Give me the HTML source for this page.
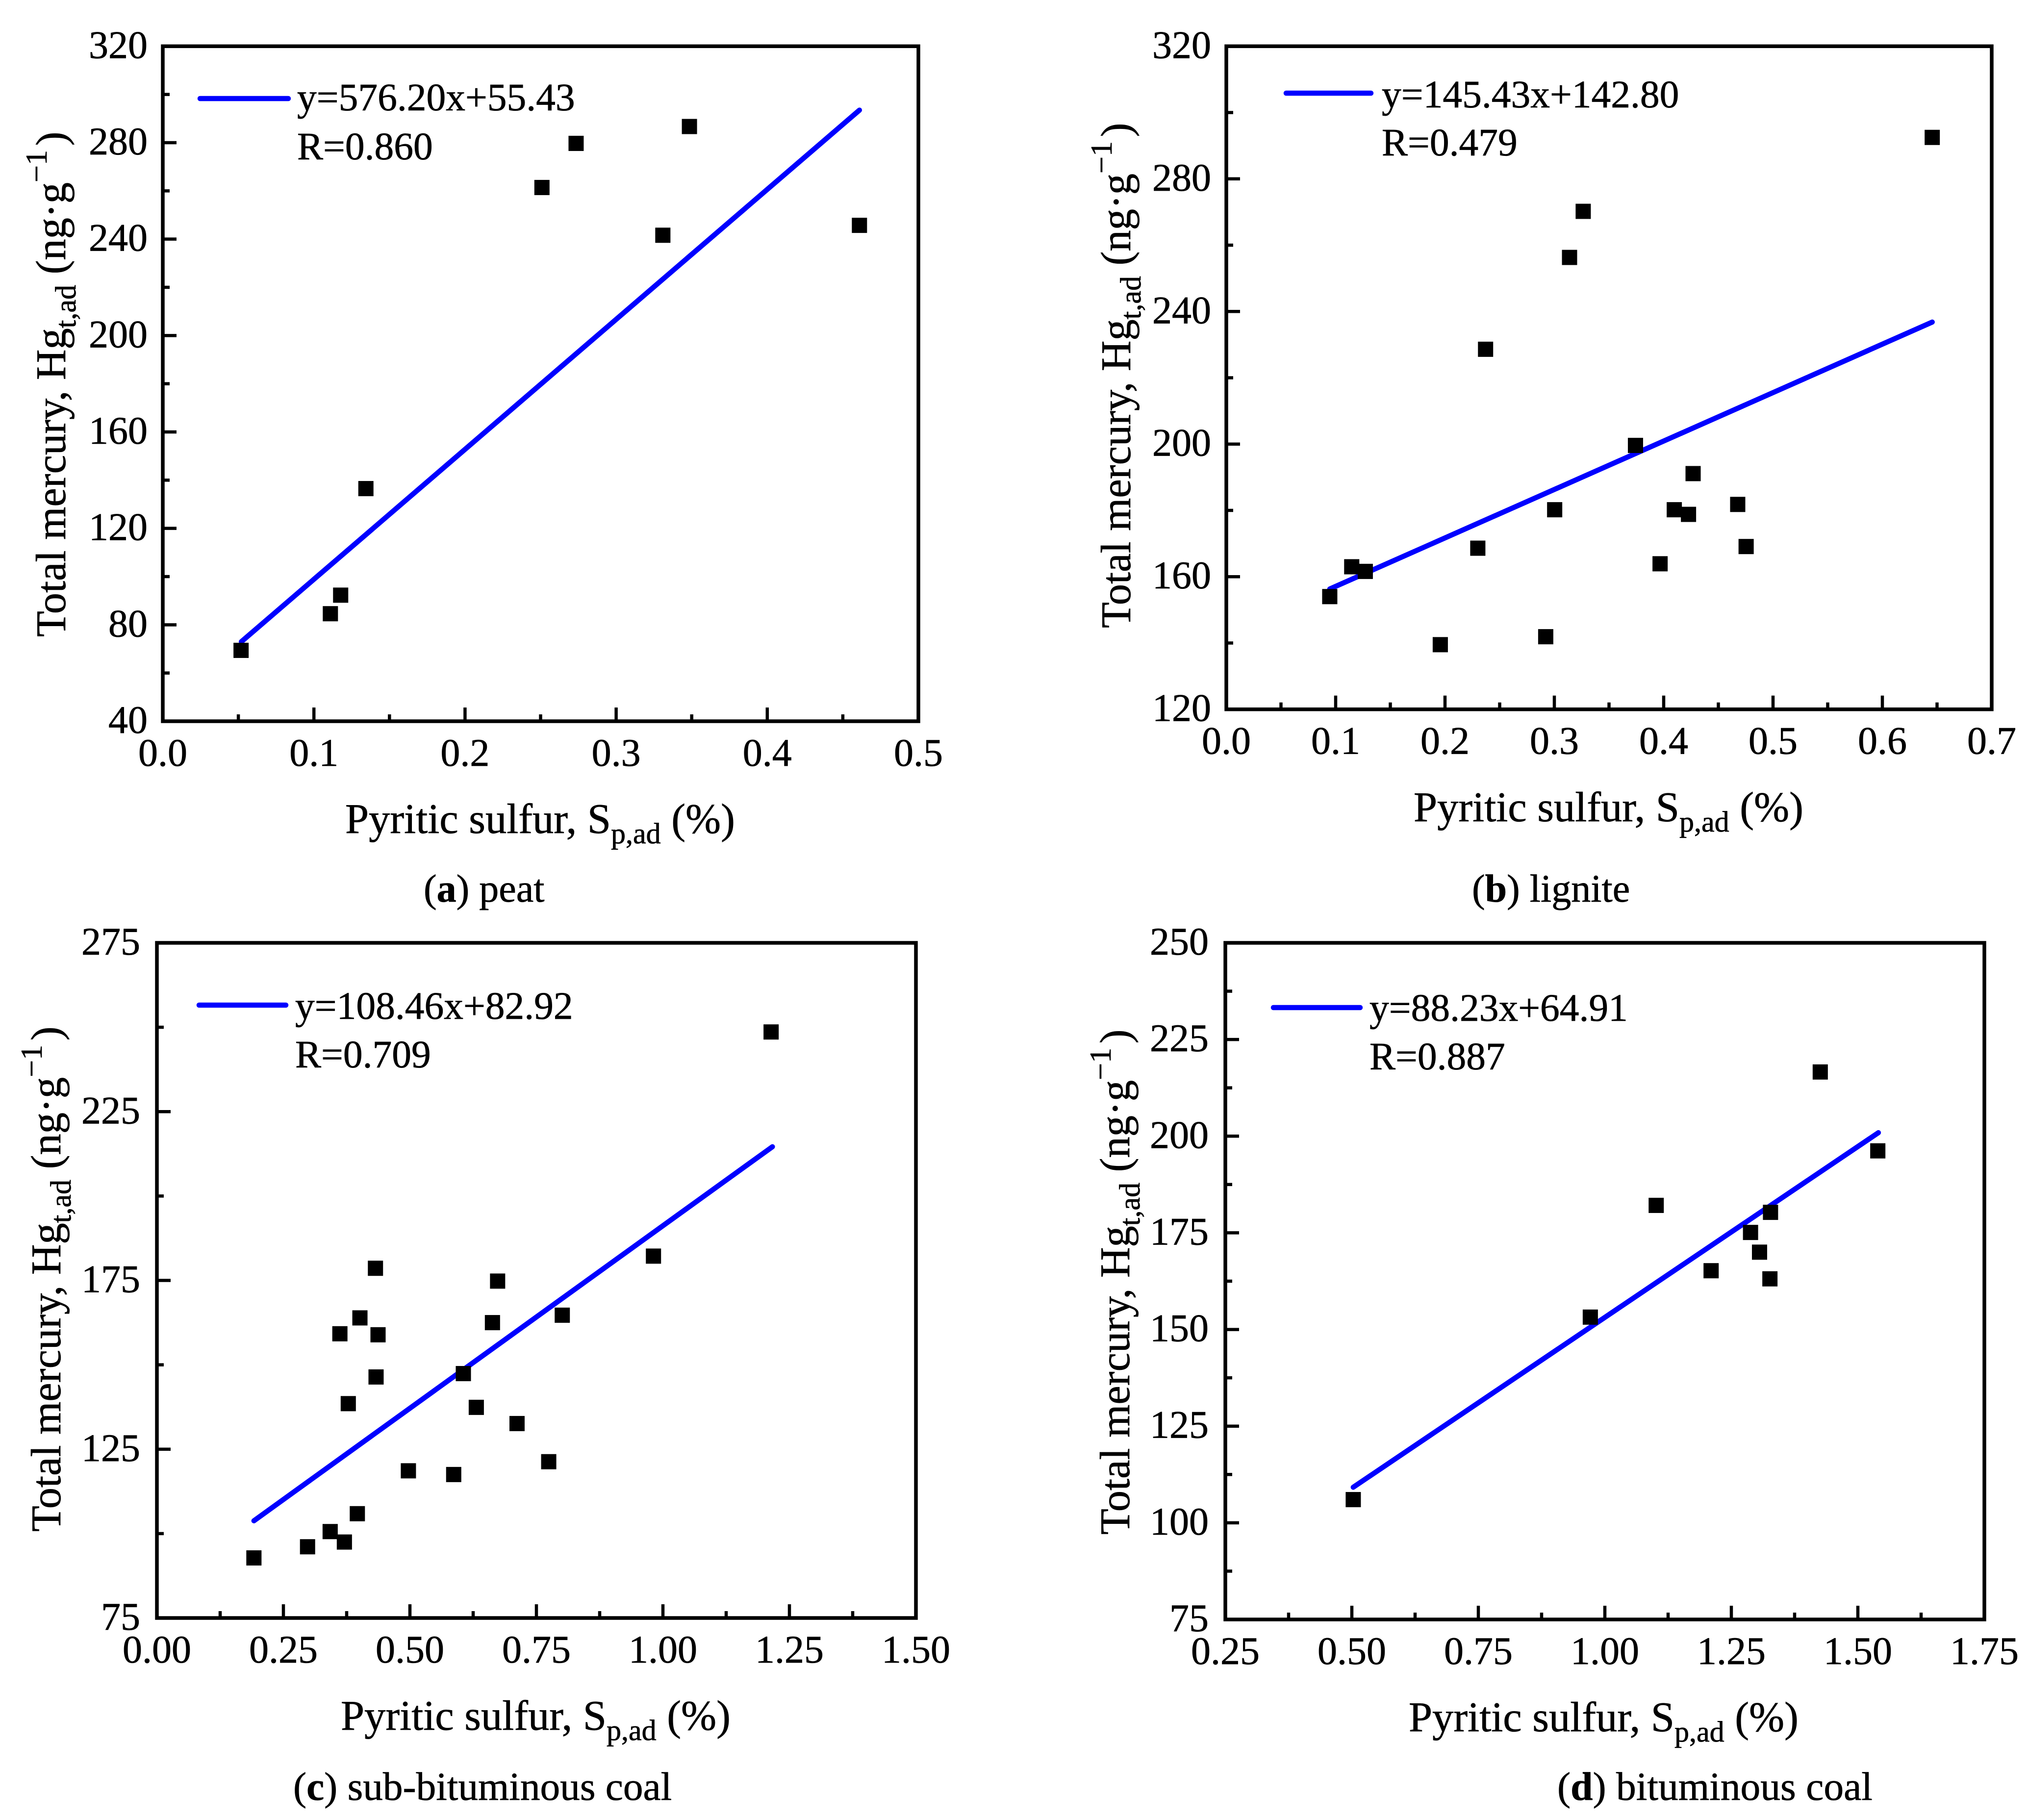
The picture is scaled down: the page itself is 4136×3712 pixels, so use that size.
<!DOCTYPE html>
<html lang="en">
<head>
<meta charset="utf-8">
<title>Total mercury vs pyritic sulfur</title>
<style>
html,body{margin:0;padding:0;background:#fff;}
svg{display:block;}
text{font-family:"Liberation Serif","Times New Roman",serif;fill:#000;stroke:#000;stroke-width:0.7px;text-rendering:geometricPrecision;}
.t{font-size:86.5px;}
.l{font-size:79.5px;}
.c{font-size:80px;}
.sub{font-size:60px;}
.sup{font-size:62px;}
</style>
</head>
<body>
<svg id="fig" xmlns="http://www.w3.org/2000/svg" width="4136" height="3712" viewBox="0 0 4136 3712">
<rect width="4136" height="3712" fill="#fff"/>

<g id="panel-a">
<text class="t" x="704" y="1699">Pyritic sulfur, S<tspan class="sub" dy="21">p,ad</tspan><tspan dy="-21"> (%)</tspan></text>
<text class="t" transform="translate(133,1299) rotate(-90)">Total mercury, Hg<tspan class="sub" dy="21">t,ad</tspan><tspan dy="-21"> (ng·g</tspan><tspan class="sup" dy="-38">−1</tspan><tspan dy="38" dx="-13"> )</tspan></text>
<line x1="408" y1="201" x2="588" y2="201" stroke="#0000ff" stroke-width="10.5" stroke-linecap="round"/>
<text class="l" x="606" y="225">y=576.20x+55.43</text>
<text class="l" x="606" y="325">R=0.860</text>
<text class="c" x="864" y="1839">(<tspan font-weight="bold">a</tspan>) peat</text>
</g>

<g id="panel-b">
<text class="t" x="2883" y="1675">Pyritic sulfur, S<tspan class="sub" dy="21">p,ad</tspan><tspan dy="-21"> (%)</tspan></text>
<text class="t" transform="translate(2305,1281) rotate(-90)">Total mercury, Hg<tspan class="sub" dy="21">t,ad</tspan><tspan dy="-21"> (ng·g</tspan><tspan class="sup" dy="-38">−1</tspan><tspan dy="38" dx="-13"> )</tspan></text>
<line x1="2623" y1="190" x2="2796" y2="190" stroke="#0000ff" stroke-width="10.5" stroke-linecap="round"/>
<text class="l" x="2818" y="219">y=145.43x+142.80</text>
<text class="l" x="2818" y="317">R=0.479</text>
<text class="c" x="3002" y="1839">(<tspan font-weight="bold">b</tspan>) lignite</text>
</g>

<g id="panel-c">
<text class="t" x="695" y="3528">Pyritic sulfur, S<tspan class="sub" dy="21">p,ad</tspan><tspan dy="-21"> (%)</tspan></text>
<text class="t" transform="translate(123,3124) rotate(-90)">Total mercury, Hg<tspan class="sub" dy="21">t,ad</tspan><tspan dy="-21"> (ng·g</tspan><tspan class="sup" dy="-38">−1</tspan><tspan dy="38" dx="-13"> )</tspan></text>
<line x1="406" y1="2050" x2="583" y2="2050" stroke="#0000ff" stroke-width="10.5" stroke-linecap="round"/>
<text class="l" x="602" y="2078">y=108.46x+82.92</text>
<text class="l" x="602" y="2177">R=0.709</text>
<text class="c" x="598" y="3671" style="font-size:81.3px">(<tspan font-weight="bold">c</tspan>) sub-bituminous coal</text>
</g>

<g id="panel-d">
<text class="t" x="2873" y="3531">Pyritic sulfur, S<tspan class="sub" dy="21">p,ad</tspan><tspan dy="-21"> (%)</tspan></text>
<text class="t" transform="translate(2303,3130) rotate(-90)">Total mercury, Hg<tspan class="sub" dy="21">t,ad</tspan><tspan dy="-21"> (ng·g</tspan><tspan class="sup" dy="-38">−1</tspan><tspan dy="38" dx="-13"> )</tspan></text>
<line x1="2597" y1="2055" x2="2774" y2="2055" stroke="#0000ff" stroke-width="10.5" stroke-linecap="round"/>
<text class="l" x="2793" y="2082">y=88.23x+64.91</text>
<text class="l" x="2793" y="2181">R=0.887</text>
<text class="c" x="3176" y="3671" style="font-size:81.5px">(<tspan font-weight="bold">d</tspan>) bituminous coal</text>
</g>
</svg>

<script>
// ---- Panel (a) peat
const peatSulfur = [0.0518, 0.1109, 0.1177, 0.1344, 0.2509, 0.2735, 0.3309, 0.3485, 0.461];
const peatMercury = [69.4, 84.6, 92.3, 136.5, 261.4, 279.7, 241.6, 286.7, 245.7];
const peatFitX = [0.052, 0.461];
const peatFitY = [73, 293.5];
const peatXTicks = ['0.0', '0.1', '0.2', '0.3', '0.4', '0.5'];
const peatYTicks = ['40', '80', '120', '160', '200', '240', '280', '320'];

// ---- Panel (b) lignite
const ligniteSulfur = [0.0946, 0.1147, 0.1271, 0.1957, 0.23, 0.2371, 0.2921, 0.3003, 0.3139, 0.3264, 0.3742, 0.3967, 0.4097, 0.4227, 0.4269, 0.4677, 0.4754, 0.6456];
const ligniteMercury = [154.0, 163.0, 161.6, 139.5, 168.6, 228.6, 141.9, 180.2, 256.3, 270.2, 199.6, 163.9, 180.2, 178.8, 191.1, 181.8, 169.1, 292.5];
const ligniteFitX = [0.0946, 0.6456];
const ligniteFitY = [156.3, 236.8];
const ligniteXTicks = ['0.0', '0.1', '0.2', '0.3', '0.4', '0.5', '0.6', '0.7'];
const ligniteYTicks = ['120', '160', '200', '240', '280', '320'];

// ---- Panel (c) sub-bituminous coal
const subBitSulfur = [0.1917, 0.2977, 0.3424, 0.3705, 0.3961, 0.3616, 0.3782, 0.4012, 0.4319, 0.437, 0.4331, 0.497, 0.5865, 0.6056, 0.6312, 0.6631, 0.6733, 0.7117, 0.7743, 0.8011, 0.9813, 1.2138];
const subBitMercury = [92.8, 96.1, 100.6, 97.5, 105.9, 159.2, 138.5, 163.9, 178.6, 158.9, 146.4, 118.6, 117.5, 147.4, 137.4, 162.5, 174.8, 132.6, 121.3, 164.7, 182.2, 248.6];
const subBitFitX = [0.1917, 1.2164];
const subBitFitY = [103.8, 214.6];
const subBitXTicks = ['0.00', '0.25', '0.50', '0.75', '1.00', '1.25', '1.50'];
const subBitYTicks = ['75', '125', '175', '225', '275'];

// ---- Panel (d) bituminous coal
const bitSulfur = [0.5028, 0.9713, 1.1015, 1.21, 1.2879, 1.3057, 1.3274, 1.3262, 1.4257, 1.5394];
const bitMercury = [106.0, 153.2, 182.1, 165.2, 175.1, 170.0, 180.3, 163.1, 216.6, 196.2];
const bitFitX = [0.5028, 1.5406];
const bitFitY = [109.2, 200.9];
const bitXTicks = ['0.25', '0.50', '0.75', '1.00', '1.25', '1.50', '1.75'];
const bitYTicks = ['75', '100', '125', '150', '175', '200', '225', '250'];

const NS = 'http://www.w3.org/2000/svg';
const MAJOR_LEN = 28;
const MINOR_LEN = 14;
const MARKER = 31;

function make(parent, tag, props, text) {
  const el = document.createElementNS(NS, tag);
  for (const k in props) el.setAttribute(k, props[k]);
  if (text !== undefined) el.textContent = text;
  parent.appendChild(el);
  return el;
}

function drawPanel(groupId, slug, box, xs, ys, fitX, fitY, xTicks, yTicks, yLabelGap) {
  const group = document.getElementById(groupId);
  const xMin = parseFloat(xTicks[0]);
  const xMax = parseFloat(xTicks[xTicks.length - 1]);
  const yMin = parseFloat(yTicks[0]);
  const yMax = parseFloat(yTicks[yTicks.length - 1]);
  const xScale = v => box.left + (v - xMin) / (xMax - xMin) * (box.right - box.left);
  const yScale = v => box.bottom - (v - yMin) / (yMax - yMin) * (box.bottom - box.top);

  // fit line
  const fit = make(group, 'line', {
    x1: xScale(fitX[0]), y1: yScale(fitY[0]),
    x2: xScale(fitX[1]), y2: yScale(fitY[1]),
    stroke: '#0000ff', 'stroke-width': 10.5, 'stroke-linecap': 'round'
  });
  
  

  // ticks on x axis (major + minor halfway)
  xTicks.forEach((label, i) => {
    const v = parseFloat(label);
    const px = xScale(v);
    const tick = make(group, 'line', { x1: px, y1: box.bottom, x2: px, y2: box.bottom - MAJOR_LEN, stroke: '#000', 'stroke-width': 6.5 });
    
    
    const txt = make(group, 'text', { x: px, y: box.bottom + 91, 'text-anchor': 'middle', 'font-size': 80 }, label);
    
    
    if (i < xTicks.length - 1) {
      const mid = xScale((v + parseFloat(xTicks[i + 1])) / 2);
      const minor = make(group, 'line', { x1: mid, y1: box.bottom, x2: mid, y2: box.bottom - MINOR_LEN, stroke: '#000', 'stroke-width': 6.5 });
      
      
    }
  });

  // ticks on y axis (major + minor halfway)
  yTicks.forEach((label, i) => {
    const v = parseFloat(label);
    const py = yScale(v);
    const tick = make(group, 'line', { x1: box.left, y1: py, x2: box.left + MAJOR_LEN, y2: py, stroke: '#000', 'stroke-width': 6.5 });
    
    
    const txt = make(group, 'text', { x: box.left - yLabelGap, y: py + 24, 'text-anchor': 'end', 'font-size': 80 }, label);
    
    
    if (i < yTicks.length - 1) {
      const mid = yScale((v + parseFloat(yTicks[i + 1])) / 2);
      const minor = make(group, 'line', { x1: box.left, y1: mid, x2: box.left + MINOR_LEN, y2: mid, stroke: '#000', 'stroke-width': 6.5 });
      
      
    }
  });

  // plot frame
  const frame = make(group, 'rect', {
    x: box.left, y: box.top, width: box.right - box.left, height: box.bottom - box.top,
    fill: 'none', stroke: '#000', 'stroke-width': 7.5
  });
  
  

  // points
  xs.forEach((xv, i) => {
    const pt = make(group, 'rect', {
      x: xScale(xv) - MARKER / 2, y: yScale(ys[i]) - MARKER / 2,
      width: MARKER, height: MARKER, fill: '#000'
    });
    
    
  });
}

drawPanel('panel-a', 'peat', { left: 332, right: 1873, top: 94.3, bottom: 1471 }, peatSulfur, peatMercury, peatFitX, peatFitY, peatXTicks, peatYTicks, 31);
drawPanel('panel-b', 'lignite', { left: 2501, right: 4062, top: 94.3, bottom: 1446.7 }, ligniteSulfur, ligniteMercury, ligniteFitX, ligniteFitY, ligniteXTicks, ligniteYTicks, 31);
drawPanel('panel-c', 'sub-bituminous', { left: 320, right: 1868, top: 1923, bottom: 3300 }, subBitSulfur, subBitMercury, subBitFitX, subBitFitY, subBitXTicks, subBitYTicks, 34);
drawPanel('panel-d', 'bituminous', { left: 2499, right: 4047, top: 1923, bottom: 3303 }, bitSulfur, bitMercury, bitFitX, bitFitY, bitXTicks, bitYTicks, 34);
</script>
</body>
</html>
